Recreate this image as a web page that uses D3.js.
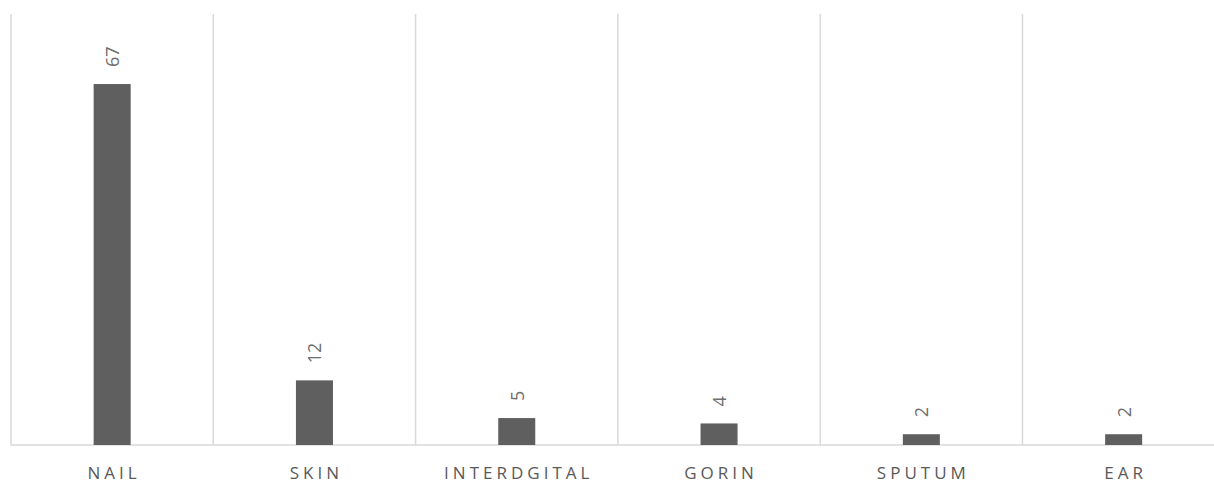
<!DOCTYPE html>
<html>
<head>
<meta charset="utf-8">
<script src="https://cdn.jsdelivr.net/npm/d3@7"></script>
<style>
  html, body { margin: 0; padding: 0; background: #fff; overflow: hidden; }
  svg { display: block; }
</style>
</head>
<body>
<svg></svg>
<script>
var screen = {width: 1214, height: 483}
var margins = {top: 14, left: 11, bottom: 38}

var categories = ["NAIL", "SKIN", "INTERDGITAL", "GORIN", "SPUTUM", "EAR"]
var counts = [67, 12, 5, 4, 2, 2]

var band = 202.3
var plotBottom = screen.height - margins.bottom

var svg = d3.select("svg")
    .attr("width", screen.width)
    .attr("height", screen.height)

var xScale = d3.scaleBand()
    .domain(categories)
    .range([margins.left, margins.left + band * categories.length])
    .padding(0)

var yScale = d3.scaleLinear()
    .domain([0, 80])
    .range([plotBottom, margins.top])

var barW = xScale.bandwidth() * 0.183

// vertical separators between categories
var edges = categories.map(function(c){ return xScale(c) })
edges.push(xScale.range()[1])

svg.append("g")
    .selectAll("line")
    .data(edges)
    .enter()
    .append("line")
    .attr("x1", function(d){ return d })
    .attr("x2", function(d){ return d })
    .attr("y1", margins.top)
    .attr("y2", plotBottom)
    .attr("stroke", "#d9d9d9")
    .attr("stroke-width", 1.5)

// baseline
svg.append("line")
    .attr("x1", margins.left)
    .attr("x2", screen.width)
    .attr("y1", plotBottom)
    .attr("y2", plotBottom)
    .attr("stroke", "#d9d9d9")
    .attr("stroke-width", 1.5)

var data = categories.map(function(c, i){ return {name: c, value: counts[i]} })

svg.append("g")
    .selectAll("rect")
    .data(data)
    .enter()
    .append("rect")
    .attr("x", function(d){ return xScale(d.name) + xScale.bandwidth()/2 - barW/2 })
    .attr("y", function(d){ return yScale(d.value) })
    .attr("width", barW)
    .attr("height", function(d){ return yScale(0) - yScale(d.value) })
    .attr("fill", "#5f5f5f")

// value labels, rotated
svg.append("g")
    .selectAll("text")
    .data(data)
    .enter()
    .append("text")
    .attr("transform", function(d){
        var cx = xScale(d.name) + xScale.bandwidth()/2
        return "translate(" + cx + "," + (yScale(d.value) - 17) + ")rotate(-90)"
    })
    .attr("text-anchor", "start")
    .attr("dominant-baseline", "central")
    .attr("font-family", "Open Sans, sans-serif")
    .attr("font-size", 18)
    .attr("fill", "#6e6e6e")
    .text(function(d){ return d.value })

// category labels
svg.append("g")
    .selectAll("text")
    .data(categories)
    .enter()
    .append("text")
    .attr("x", function(d){ return xScale(d) + xScale.bandwidth()/2 + 2 })
    .attr("y", 479)
    .attr("text-anchor", "middle")
    .attr("font-family", "Open Sans, sans-serif")
    .attr("font-size", 17)
    .attr("letter-spacing", 4)
    .attr("fill", "#595959")
    .text(function(d){ return d })
</script>
</body>
</html>
